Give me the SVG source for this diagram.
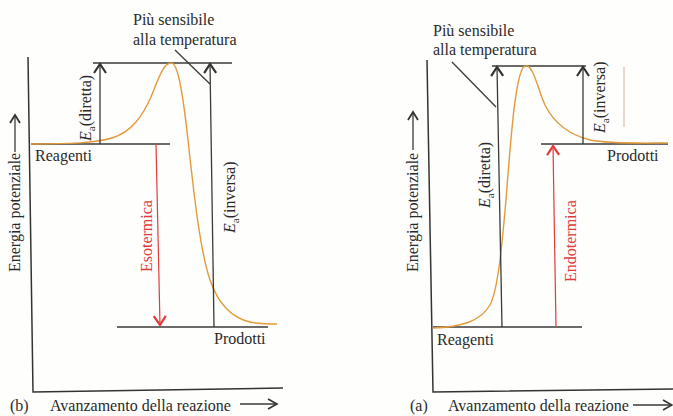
<svg xmlns="http://www.w3.org/2000/svg" width="673" height="416" viewBox="0 0 673 416" font-family="'Liberation Serif', 'DejaVu Serif', serif">
<defs>
<marker id="chev" viewBox="-11 -8 13 16" markerWidth="13" markerHeight="16" refX="0" refY="0" orient="auto" markerUnits="userSpaceOnUse">
<path d="M-9,-6 L0,0 L-9,6" fill="none" stroke="#333" stroke-width="2.2"/>
</marker>
<marker id="chevR" viewBox="-11 -8 13 16" markerWidth="13" markerHeight="16" refX="0" refY="0" orient="auto" markerUnits="userSpaceOnUse">
<path d="M-9,-6 L0,0 L-9,6" fill="none" stroke="#e23a3a" stroke-width="2.2"/>
</marker>
</defs>
<style>
text{font-family:'Liberation Serif','DejaVu Serif',serif;font-size:16px;fill:#2a2a2a}
.red{fill:#e03a3a}
.ax{stroke:#333;stroke-width:1.5;fill:none}
.lv{stroke:#3a3a3a;stroke-width:1.3;fill:none}
.ar{stroke:#3a3a3a;stroke-width:1.3;fill:none;marker-end:url(#chev)}
.arR{stroke:#e23a3a;stroke-width:1.2;fill:none;marker-end:url(#chevR)}
.curve{stroke:#e39a3a;stroke-width:1.4;fill:none}
.sub{font-size:11px;font-style:normal}
.it{font-style:italic}
</style>
<rect width="673" height="416" fill="#fefefc"/>

<!-- Panel (b) exothermic -->
<g id="panel-b">
<g id="axes-b">
<path class="ax" d="M28,57 L33,392 L283,388"/>
<path class="lv" d="M15,152 L15,116"/>
<path d="M10,123 L15,115 L20,123" fill="none" stroke="#333" stroke-width="1.8"/>
<path class="lv" d="M240,404 L276,404"/>
<path d="M268,399 L277,404 L268,409" fill="none" stroke="#333" stroke-width="1.6"/>
</g>
<g id="levels-b">
<path class="lv" d="M93,63 L232,63"/>
<path class="lv" d="M31,144 L170,144"/>
<path class="lv" d="M117,327 L268,327"/>
</g>
<g id="curve-b">
<path class="curve" d="M31,144 C70,144 95,143 112,138 C132,132 143,115 151,97 C158,80 163,63 171,63 C178,62 183,95 188,140 C194,195 200,250 210,280 C218,303 232,318 250,322 C260,324 268,324 277,324"/>
</g>
<g id="connectors-b">
<path class="ar" d="M100,144 L100,64"/>
<path class="ar" d="M214,327 L210,64"/>
<path class="arR" d="M156,144 L160,325"/>
<path class="lv" d="M175,50 L210,84"/>
</g>
<g id="labels-b">
<text x="133" y="25">Più sensibile</text>
<text x="133" y="45">alla temperatura</text>
<text x="35" y="161">Reagenti</text>
<text x="214" y="344">Prodotti</text>
<text transform="translate(20,272) rotate(-90)">Energia potenziale</text>
<text transform="translate(91,141) rotate(-90)"><tspan class="it">E</tspan><tspan class="sub" dy="4">a</tspan><tspan dy="-4">(diretta)</tspan></text>
<text transform="translate(235,233) rotate(-90)"><tspan class="it">E</tspan><tspan class="sub" dy="4">a</tspan><tspan dy="-4">(inversa)</tspan></text>
<text class="red" transform="translate(152,272) rotate(-90)">Esotermica</text>
<text x="10" y="411">(b)</text>
<text x="50" y="411">Avanzamento della reazione</text>
</g>
</g>

<!-- Panel (a) endothermic -->
<g id="panel-a">
<g id="axes-a">
<path class="ax" d="M427,60 L433,392 L673,389"/>
<path class="lv" d="M413,150 L413,113"/>
<path d="M408,120 L413,112 L418,120" fill="none" stroke="#333" stroke-width="1.8"/>
<path class="lv" d="M633,405 L671,405"/>
<path d="M663,400 L672,405 L663,410" fill="none" stroke="#333" stroke-width="1.6"/>
</g>
<g id="levels-a">
<path class="lv" d="M492,66 L586,66"/>
<path class="lv" d="M433,327 L582,327"/>
<path class="lv" d="M541,144 L668,144"/>
</g>
<g id="curve-a">
<path class="curve" d="M433,328 C460,327 480,322 490,305 C498,290 502,245 506,200 C510,150 515,70 525,66 C533,63 538,90 545,105 C555,125 570,135 590,140 C610,144 640,143 668,143"/>
</g>
<g id="connectors-a">
<path class="ar" d="M502,327 L497,67"/>
<path class="ar" d="M583,144 L583,67"/>
<path class="arR" d="M556,327 L553,146"/>
<path class="lv" d="M452,62 L496,107"/>
<path d="M624,67 L624,127" stroke="#d8c0b0" stroke-width="1.2"/>
</g>
<g id="labels-a">
<text x="433" y="36">Più sensibile</text>
<text x="433" y="55">alla temperatura</text>
<text x="437" y="345">Reagenti</text>
<text x="607" y="161">Prodotti</text>
<text transform="translate(418,272) rotate(-90)">Energia potenziale</text>
<text transform="translate(490,208) rotate(-90)"><tspan class="it">E</tspan><tspan class="sub" dy="4">a</tspan><tspan dy="-4">(diretta)</tspan></text>
<text transform="translate(605,133) rotate(-90)"><tspan class="it">E</tspan><tspan class="sub" dy="4">a</tspan><tspan dy="-4">(inversa)</tspan></text>
<text class="red" transform="translate(576,282) rotate(-90)">Endotermica</text>
<text x="410" y="411">(a)</text>
<text x="448" y="411">Avanzamento della reazione</text>
</g>
</g>
</svg>
